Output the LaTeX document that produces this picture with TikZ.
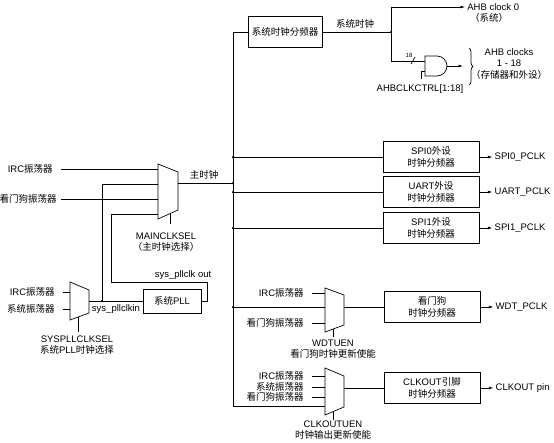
\documentclass[tikz,border=0pt]{standalone}
\usepackage{fontspec}
\setmainfont{Liberation Sans}
\newfontfamily\cjk{Noto Sans CJK SC}
\newcommand{\zh}[1]{{\cjk #1}}
\usetikzlibrary{arrows.meta, decorations.pathreplacing}
\tikzset{divbox/.style={draw, minimum width=96pt, minimum height=31pt, align=center, inner sep=1pt}}
\tikzset{arr/.style={-{Latex[length=4.5pt, width=3pt]}}}
\tikzset{inlbl/.style={anchor=east, inner xsep=8pt, inner ysep=1pt}}
\tikzset{outlbl/.style={anchor=west, inner xsep=2pt, inner ysep=1pt}}
\tikzset{dot/.style={fill, circle, inner sep=0pt, minimum size=2.5pt}}

\begin{document}
\begin{tikzpicture}[x=1pt, y=-1pt, line width=0.7pt, font=\fontsize{9.5}{11.5}\selectfont]
\useasboundingbox (0,0) rectangle (554,442);

% system clock divider and AHB clocks
\node[divbox, minimum width=74pt] (sysdiv) at (285,32) {\zh{系统时钟分频器}};
\coordinate (bustop) at (233,32);
\coordinate (ahbsplit) at (391,32);
\node (sysclk) at (355,24) {\zh{系统时钟}};
\node[outlbl] (ahb0) at (465,7) {AHB clock 0};
\node (ahb0sys) at (489,18) {\zh{（系统）}};
\draw (sysdiv.east) -- (ahbsplit);
\draw[arr] (ahbsplit) |- (ahb0.west);
\node[dot] at (ahbsplit) {};

\coordinate (and1) at (425,61);
\coordinate (and2) at (425,71);
\coordinate (andout) at (447,66);
\coordinate (ahbn) at (463,66);
\draw (425,56) -- (437,56) .. controls (442.5,56) and (447,60.5) .. (447,66)
      .. controls (447,71.5) and (442.5,76) .. (437,76) -- (425,76) -- cycle;
\draw (ahbsplit) |- (and1);
\draw (411,64) -- (415,57);
\node[font=\fontsize{6}{7}\selectfont, inner sep=0pt] (bus18) at (409,55) {18};
\coordinate (ctrlin) at (421,79);
\draw (ctrlin) |- (and2);
\node (ctrl) at (420,89) {AHBCLKCTRL[1:18]};
\draw[arr] (andout) -- (ahbn);
\draw[decorate, decoration={brace, amplitude=4pt}] (469,48) -- (469,85);
\node[align=center] (ahbclks) at (509,64) {AHB clocks\\1 - 18\\\zh{（存储器和外设）}};

% main clock bus
\draw (sysdiv.west) -| (bustop |- 0,406) -- (325,406);

% peripheral dividers
\node[divbox] (spi0) at (431,157) {SPI0\zh{外设}\\\zh{时钟分频器}};
\node[divbox] (uart) at (431,192) {UART\zh{外设}\\\zh{时钟分频器}};
\node[divbox] (spi1) at (431,228) {SPI1\zh{外设}\\\zh{时钟分频器}};
\node[divbox] (wdt) at (432,307) {\zh{看门狗}\\\zh{时钟分频器}};
\node[divbox] (clkout) at (432,388) {CLKOUT\zh{引脚}\\\zh{时钟分频器}};
\foreach \n in {spi0, uart, spi1} {
    \draw (\n.west -| bustop) -- (\n.west);
    \node[dot] at (\n.west -| bustop) {};
}
\foreach \n/\t in {spi0/SPI0\_PCLK, uart/UART\_PCLK, spi1/SPI1\_PCLK, wdt/WDT\_PCLK, clkout/CLKOUT pin} {
    \draw[arr] (\n.east) -- ++(13,0) node[outlbl] (\n out) {\t};
}

% main clock select
\draw (158,164) -- (178,172) -- (178,210) -- (158,219) -- cycle;
\coordinate (ms1) at (158,169);
\coordinate (ms2) at (158,184);
\coordinate (ms3) at (158,199);
\coordinate (ms4) at (158,214);
\coordinate (msout) at (178,183);
\coordinate (mssel) at (170,214);
\coordinate (msselend) at (170,224);
\node[inlbl] (irc1) at (61,169) {IRC\zh{振荡器}};
\node[inlbl, inner xsep=4pt] (wdo1) at (61,199) {\zh{看门狗振荡器}};
\draw (irc1.east) -- (ms1);
\draw (wdo1.east) -- (ms3);
\draw (msout) -- (msout -| bustop);
\node[dot] at (msout -| bustop) {};
\node (mainclk) at (204,175) {\zh{主时钟}};
\draw (mssel) -- (msselend);
\node[align=center] (mainsel) at (166,242) {MAINCLKSEL\\\zh{（主时钟选择）}};

% system PLL select
\draw (70,282) -- (89,290) -- (89,313) -- (70,320) -- cycle;
\coordinate (sp1) at (70,292);
\coordinate (sp2) at (70,309);
\coordinate (spout) at (89,301);
\coordinate (spsel) at (78,317);
\coordinate (spselend) at (78,332);
\node[inlbl] (irc2) at (63,292) {IRC\zh{振荡器}};
\node[inlbl] (osc2) at (63,309) {\zh{系统振荡器}};
\draw (irc2.east) -- (sp1);
\draw (osc2.east) -- (sp2);
\draw (spsel) -- (spselend);
\node[align=center] (spsellbl) at (77,345) {SYSPLLCLKSEL\\\zh{系统}PLL\zh{时钟选择}};
\node[divbox, minimum width=58pt, minimum height=24pt] (pll) at (172,301) {\zh{系统}PLL};
\coordinate (pllin) at (102,301);
\coordinate (pllret) at (111,282);
\draw (spout) -- (pll.west);
\draw (pllin) |- (ms2);
\node[dot] at (pllin) {};
\node (pllinlbl) at (116,309) {sys\_pllclkin};
\draw (pll.east) -- ++(6,0) |- (pllret) |- (ms4);
\node (pllout) at (183,275) {sys\_pllclk out};

% watchdog clock select
\draw (325,288) -- (344,295) -- (344,325) -- (325,332) -- cycle;
\coordinate (wm1) at (325,293);
\coordinate (wm2) at (325,307);
\coordinate (wm3) at (325,323);
\coordinate (wmout) at (344,307);
\coordinate (wmsel) at (333,329);
\coordinate (wmselend) at (333,337);
\node[inlbl] (irc3) at (312,293) {IRC\zh{振荡器}};
\node[inlbl] (wdo3) at (312,323) {\zh{看门狗振荡器}};
\draw (irc3.east) -- (wm1);
\draw (wdo3.east) -- (wm3);
\draw (wm2 -| bustop) -- (wm2);
\node[dot] at (wm2 -| bustop) {};
\draw (wmout) -- (wdt.west);
\draw (wmsel) -- (wmselend);
\node[align=center] (wdtuen) at (333,349) {WDTUEN\\\zh{看门狗时钟更新使能}};

% clock output select
\draw (325,368) -- (344,376) -- (344,407) -- (325,415) -- cycle;
\coordinate (cm1) at (325,376);
\coordinate (cm2) at (325,387);
\coordinate (cm3) at (325,397);
\coordinate (cmout) at (344,388);
\coordinate (cmsel) at (333,412);
\coordinate (cmselend) at (333,420);
\node[inlbl] (irc4) at (312,376) {IRC\zh{振荡器}};
\node[inlbl] (osc4) at (312,387) {\zh{系统振荡器}};
\node[inlbl] (wdo4) at (312,397) {\zh{看门狗振荡器}};
\draw (irc4.east) -- (cm1);
\draw (osc4.east) -- (cm2);
\draw (wdo4.east) -- (cm3);
\draw (cmout) -- (clkout.west);
\draw (cmsel) -- (cmselend);
\node[align=center] (clkouten) at (333,430) {CLKOUTUEN\\\zh{时钟输出更新使能}};
\end{tikzpicture}
\end{document}
